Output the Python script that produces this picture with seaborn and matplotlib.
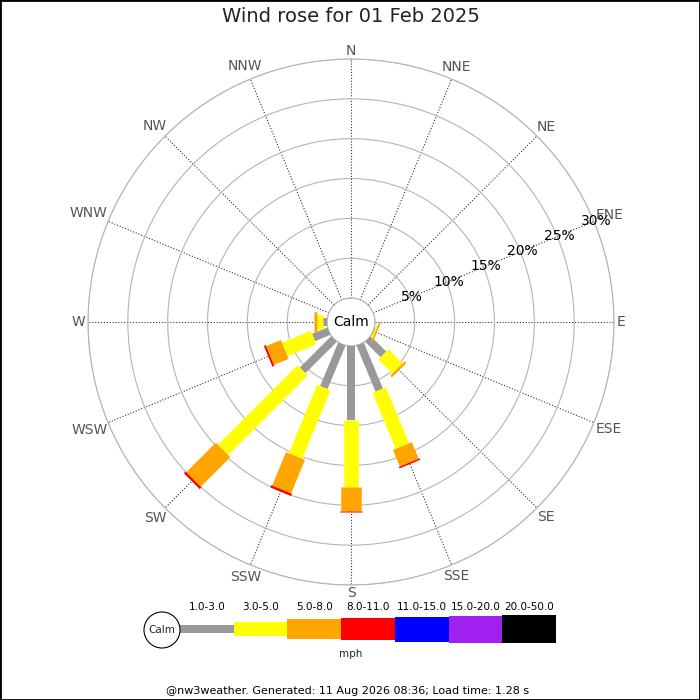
import numpy as np
import matplotlib
matplotlib.use('Agg')
import matplotlib.pyplot as plt
import seaborn as sns

sns.set_theme(style='white')
plt.rcParams['font.family'] = ['DejaVu Sans']

# ---- data (percent of observations) ----
directions = ['N', 'NNE', 'NE', 'ENE', 'E', 'ESE', 'SE', 'SSE',
              'S', 'SSW', 'SW', 'WSW', 'W', 'WNW', 'NW', 'NNW']
speed_bins = ['1.0-3.0', '3.0-5.0', '5.0-8.0', '8.0-11.0',
              '11.0-15.0', '15.0-20.0', '20.0-50.0']
bin_colors = ['#999999', '#ffff00', '#ffa500', '#ff0000',
              '#0000ff', '#a020f0', '#000000']

freq_1_3 = [0, 0, 0, 0, 0, 0.1, 2.75, 6.25, 9.25, 5.9, 5.6, 2.1, 0.5, 0, 0, 0]
freq_3_5 = [0, 0, 0, 0, 0, 0.2, 2.5, 7.6, 8.5, 9.3, 14.1, 3.9, 0.75, 0, 0, 0]
freq_5_8 = [0, 0, 0, 0, 0, 0.2, 0.3, 2.25, 3.0, 4.55, 5.25, 2.0, 0.4, 0, 0, 0]
freq_8_11 = [0, 0, 0, 0, 0, 0, 0, 0.2, 0.12, 0.3, 0.3, 0.25, 0, 0, 0, 0]
freq_11_15 = [0] * 16
freq_15_20 = [0] * 16
freq_20_50 = [0] * 16
series = [freq_1_3, freq_3_5, freq_5_8, freq_8_11,
          freq_11_15, freq_15_20, freq_20_50]

ring_pcts = [5, 10, 15, 20, 25, 30]
title = 'Wind rose for 01 Feb 2025'
footer = '@nw3weather. Generated: 11 Aug 2026 08:36; Load time: 1.28 s'

# ---- layout ----
DPI = 100
W = 700
cx, cy, R = 351, 322, 263          # pixel centre and outer radius
bar_px = [8, 14.5, 20.5, 22.5, 25, 27, 28]
pt = 72 / DPI

fig = plt.figure(figsize=(W / DPI, W / DPI), dpi=DPI)
fig.patch.set_facecolor('white')

ax = fig.add_axes([(cx - R) / W, (W - cy - R) / W, 2 * R / W, 2 * R / W],
                  projection='polar')
ax.set_theta_zero_location('N')
ax.set_theta_direction(-1)
ax.set_ylim(0, 30)
ax.set_rorigin(-3)
ax.set_facecolor('white')

theta = np.deg2rad(np.arange(len(directions)) * 22.5)
ax.set_xticks(theta)
ax.set_xticklabels([])
ax.set_yticks([0] + ring_pcts)
ax.set_yticklabels([])
ax.set_axisbelow(True)
ax.yaxis.grid(True, color='#b4b4b4', lw=0.8, ls='-')
ax.xaxis.grid(True, color='#333333', lw=0.8, ls=(0, (1, 1.6)))
for name, sp in ax.spines.items():
    sp.set_color('#b4b4b4')
    sp.set_linewidth(0.8)

# stacked bars (constant pixel width, like the original)
cum = np.zeros(len(directions))
for freqs, col, wpx in zip(series, bin_colors, bar_px):
    freqs = np.asarray(freqs, dtype=float)
    for th, r0, f in zip(theta, cum, freqs):
        if f > 0:
            ax.plot([th, th], [r0, r0 + f], color=col, lw=wpx * pt,
                    solid_capstyle='butt', zorder=3)
    cum += freqs

ax.text(0.5, 0.5, 'Calm', transform=ax.transAxes, ha='center', va='center',
        fontsize=10, color='black', zorder=5)

# radial labels along ENE
for v in ring_pcts:
    ax.text(np.deg2rad(67.5), v + 0.25, f'{v}%', ha='center', va='center',
            fontsize=10, color='black', zorder=4)

# direction labels, placed just outside the outer ring
dir_texts = []
for th, lbl in zip(theta, directions):
    t = ax.annotate(lbl, xy=(th, 30), xytext=(0, 0), textcoords='offset points',
                    ha='center', va='center', fontsize=10, color='#555555',
                    annotation_clip=False)
    dir_texts.append((th, t))

# ---- overlay axes in pixel units for title, legend and footer ----
lax = fig.add_axes([0, 0, 1, 1])
lax.set_xlim(0, W)
lax.set_ylim(W, 0)
lax.axis('off')
lax.patch.set_visible(False)

lax.text(cx, 17, title, ha='center', va='center', fontsize=14, color='#222222')

seg_w = 53.7
seg_x0 = 180
n = len(speed_bins)
x_c = seg_x0 + (np.arange(n) + 0.5) * seg_w
heights = np.array(bar_px)
lax.bar(x_c, heights, width=seg_w, bottom=629 - heights / 2,
        color=bin_colors, edgecolor='none')
for x, lbl in zip(x_c, speed_bins):
    lax.text(x, 607, lbl, ha='center', va='center', fontsize=7.5, color='black')
lax.add_patch(plt.Circle((162, 630), 18, facecolor='white', edgecolor='black',
                         lw=0.8, zorder=4))
lax.text(162, 630, 'Calm', ha='center', va='center', fontsize=7.5, zorder=5)
lax.text(cx, 654, 'mph', ha='center', va='center', fontsize=7.5)
lax.text(348, 691, footer, ha='center', va='center', fontsize=8, color='black')

fig.add_artist(plt.Rectangle((0, 0), 1, 1, transform=fig.transFigure,
                             fill=False, edgecolor='black', lw=2))

# push direction labels out so their nearest edge sits just beyond the ring
fig.canvas.draw()
renderer = fig.canvas.get_renderer()
for th, t in dir_texts:
    bb = t.get_window_extent(renderer)
    ux, uy = np.sin(th), np.cos(th)
    d = 3.5 + abs(ux) * bb.width * 0.45 + abs(uy) * (bb.height - 5) / 2
    t.xyann = (ux * d * pt, uy * d * pt)

fig.savefig('out.png', dpi=DPI)
